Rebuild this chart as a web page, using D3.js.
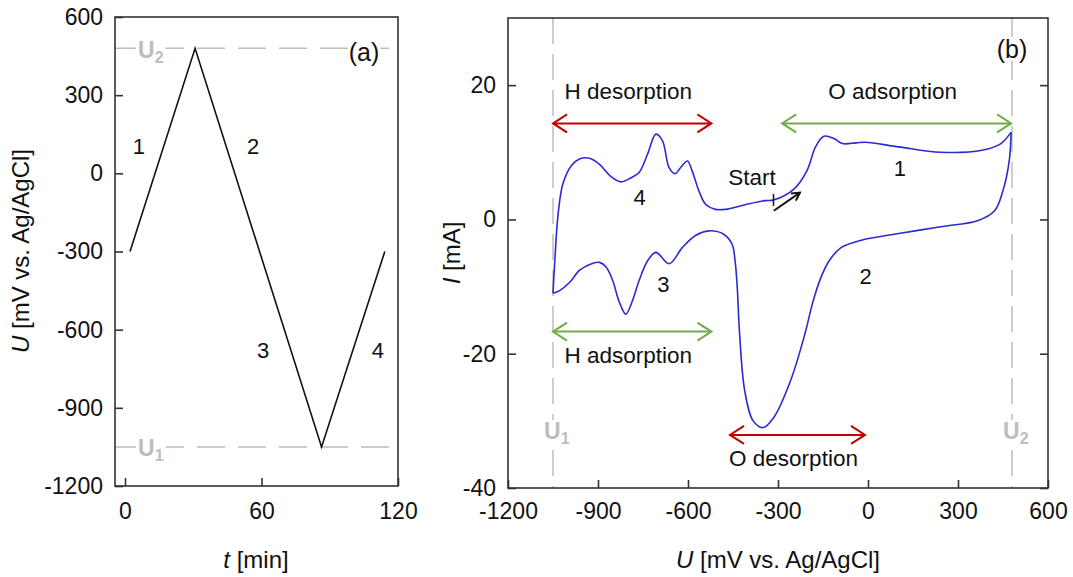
<!DOCTYPE html>
<html>
<head>
<meta charset="utf-8">
<script src="https://cdn.jsdelivr.net/npm/d3@7"></script>
<style>
  body { margin: 0; background: #fff; }
  text { font-family: "Liberation Sans", Arial, sans-serif; }
</style>
</head>
<body>
<svg id="chart" width="1073" height="577"></svg>
<script>
// ---- (a) potential program ----
const timePts = [2.2, 30.8, 86.4, 114.2];
const potPts = [-300, 480, -1050, -300];
const timeTicks = [0, 60, 120];
const potTicks = [-1200, -900, -600, -300, 0, 300, 600];
const U1 = -1050, U2 = 480;

// ---- (b) cyclic voltammogram ----
// forward sweep U1 -> U2 (branches 4 and 1)
const fwdU = [-1050, -1044, -1033, -1017, -989, -962, -928, -895, -857, -823, -790, -763, -735, -707, -685, -663, -643, -625, -602, -586, -564, -542, -509, -475, -409, -343, -315, -245, -203, -175, -147, -112, -85, -40, -8, 103, 242, 380, 443, 477];
const fwdI = [-11.0, -6.2, 0.8, 5.3, 8.0, 9.0, 9.1, 8.2, 6.4, 5.6, 6.2, 7.0, 9.7, 12.7, 11.7, 7.7, 6.8, 7.7, 8.7, 7.2, 4.3, 2.3, 1.5, 1.5, 2.2, 2.8, 2.9, 4.6, 7.3, 10.8, 12.4, 12.0, 11.3, 11.4, 11.5, 10.8, 10.0, 10.3, 11.3, 13.0];
// reverse sweep U2 -> U1 (branches 2 and 3)
const revU = [477, 471, 450, 422, 367, 242, 103, -22, -90, -130, -160, -185, -210, -258, -314, -349, -383, -411, -428, -436, -443, -453, -481, -531, -575, -619, -663, -707, -735, -763, -785, -807, -829, -851, -873, -895, -928, -962, -995, -1028, -1050];
const revI = [13.0, 8.8, 4.3, 1.3, -0.15, -1.1, -2.1, -3.1, -4.2, -6.2, -9.0, -12.5, -17.0, -24.0, -29.5, -31.0, -30.0, -25.5, -17.0, -10.0, -6.2, -3.7, -2.2, -1.7, -2.4, -4.2, -6.6, -4.9, -6.2, -9.1, -12.1, -14.1, -12.3, -9.1, -7.1, -6.4, -6.7, -7.6, -9.4, -10.6, -11.0];
const cvUTicks = [-1200, -900, -600, -300, 0, 300, 600];
const currentTicks = [-40, -20, 0, 20];

// process regions: [start U, end U, current level]
const regionNames = ['H desorption', 'O adsorption', 'H adsorption', 'O desorption'];
const regionFrom = [-1050, -286, -1050, -460];
const regionTo = [-522, 477, -522, -10];
const regionI = [14.3, 14.3, -16.7, -32.1];
const startU = -315, startI = 2.9;

const RED = '#c00000', GREEN = '#70ad47', BLUE = '#2b2bd3', GREY = '#bdbdbd', AX = '#333';

const svg = d3.select('#chart');

function axes(x, y, xt, yt, rightTicks, bottomPad) {
  const g = svg.append('g');
  const [y0] = y.range();
  const [x0, x1] = x.range();
  g.append('g').attr('transform', `translate(0,${y0})`)
    .call(d3.axisBottom(x).tickValues(xt).tickSize(-8).tickPadding(bottomPad).tickFormat(d => String(d)));
  g.append('g').attr('transform', `translate(${x0},0)`)
    .call(d3.axisLeft(y).tickValues(yt).tickSize(-8).tickPadding(12).tickFormat(d => String(d)));
  if (rightTicks) {
    g.append('g').attr('transform', `translate(${x1},0)`)
      .call(d3.axisRight(y).tickValues(yt).tickSize(-8).tickFormat(''));
  }
  g.selectAll('.domain').remove();
  g.selectAll('.tick line').attr('stroke', AX).attr('stroke-width', 1.6);
  g.selectAll('.tick text').attr('font-size', 23).attr('fill', '#111')
    .attr('font-family', '"Liberation Sans", Arial, sans-serif');
  const [yb, yt2] = y.range();
  svg.append('rect').attr('x', x0).attr('y', yt2).attr('width', x1 - x0).attr('height', yb - yt2)
    .attr('fill', 'none').attr('stroke', AX).attr('stroke-width', 1.6);
}

function backedText(x, y, str, size, opts = {}) {
  const t = svg.append('text').attr('x', x).attr('y', y).attr('font-size', size)
    .attr('text-anchor', opts.anchor || 'middle').attr('fill', opts.fill || '#111')
    .attr('font-weight', opts.weight || 'normal').text(str);
  if (opts.back) {
    const b = t.node().getBBox();
    svg.insert('rect', () => t.node()).attr('x', b.x - 1).attr('y', b.y + 2)
      .attr('width', b.width + 2).attr('height', b.height - 4).attr('fill', '#fff');
  }
  return t;
}

function uLabel(x, y, sub) {
  const t = svg.append('text').attr('x', x).attr('y', y).attr('font-size', 23)
    .attr('font-weight', 'bold').attr('fill', GREY);
  t.append('tspan').text('U');
  t.append('tspan').attr('font-size', 16).attr('dy', 5).text(sub);
  const b = t.node().getBBox();
  svg.insert('rect', () => t.node()).attr('x', b.x - 2).attr('y', b.y + 2)
    .attr('width', b.width + 4).attr('height', b.height - 3).attr('fill', '#fff');
}

function dblArrow(xa, xb, y, color) {
  const g = svg.append('g').attr('stroke', color).attr('stroke-width', 2).attr('fill', 'none');
  g.append('line').attr('x1', xa).attr('x2', xb).attr('y1', y).attr('y2', y);
  g.append('polyline').attr('points', `${xa + 14},${y - 9} ${xa},${y} ${xa + 14},${y + 9}`);
  g.append('polyline').attr('points', `${xb - 14},${y - 9} ${xb},${y} ${xb - 14},${y + 9}`);
}

// ================= panel (a) =================
const xA = d3.scaleLinear().domain([-4.4, 120]).range([115, 398]);
const yA = d3.scaleLinear().domain([-1200, 600]).range([486, 17]);

[U1, U2].forEach(u => {
  svg.append('line').attr('x1', xA.range()[0]).attr('x2', xA.range()[1])
    .attr('y1', yA(u)).attr('y2', yA(u))
    .attr('stroke', GREY).attr('stroke-width', 1.5).attr('stroke-dasharray', '28,13');
});
uLabel(138, yA(U2) + 10, '2');
uLabel(138, yA(U1) + 9, '1');

axes(xA, yA, timeTicks, potTicks, false, 17);

svg.append('path')
  .datum(d3.zip(timePts, potPts))
  .attr('fill', 'none').attr('stroke', '#111').attr('stroke-width', 1.6)
  .attr('d', d3.line().x(d => xA(d[0])).y(d => yA(d[1])));

backedText(364, 61, '(a)', 25, {back: true});
[['1', 6.1, 105], ['2', 56.3, 105], ['3', 60.7, -678], ['4', 111.2, -678]].forEach(([s, t, u]) => {
  backedText(xA(t), yA(u) + 8, s, 22);
});

svg.append('text').attr('transform', 'translate(29,251) rotate(-90)')
  .attr('text-anchor', 'middle').attr('font-size', 24).attr('fill', '#111')
  .call(t => { t.append('tspan').attr('font-style', 'italic').text('U'); t.append('tspan').text(' [mV vs. Ag/AgCl]'); });
svg.append('text').attr('x', 256).attr('y', 568).attr('text-anchor', 'middle')
  .attr('font-size', 24).attr('fill', '#111')
  .call(t => { t.append('tspan').attr('font-style', 'italic').text('t'); t.append('tspan').text(' [min]'); });

// ================= panel (b) =================
const xB = d3.scaleLinear().domain([-1200, 600]).range([508, 1048]);
const yB = d3.scaleLinear().domain([-40, 30]).range([488, 18]);

[U1, U2].forEach(u => {
  svg.append('line').attr('x1', xB(u)).attr('x2', xB(u))
    .attr('y1', yB.range()[1]).attr('y2', yB.range()[0])
    .attr('stroke', GREY).attr('stroke-width', 1.5).attr('stroke-dasharray', '26,10');
});
uLabel(xB(U1) - 9, 439, '1');
uLabel(xB(U2) - 9, 439, '2');

axes(xB, yB, cvUTicks, currentTicks, true, 15);

const cvLine = d3.line().x(d => xB(d[0])).y(d => yB(d[1])).curve(d3.curveCatmullRom.alpha(0.5));
[[fwdU, fwdI], [revU, revI]].forEach(([u, i]) => {
  svg.append('path').datum(d3.zip(u, i))
    .attr('fill', 'none').attr('stroke', BLUE).attr('stroke-width', 1.6).attr('d', cvLine);
});

// region arrows and names
const regionColor = [RED, GREEN, GREEN, RED];
const labelDy = [-24, -24, 31, 31];
regionNames.forEach((name, k) => {
  const y = yB(regionI[k]);
  dblArrow(xB(regionFrom[k]), xB(regionTo[k]), y, regionColor[k]);
  const cx = (xB(regionFrom[k]) + xB(regionTo[k])) / 2;
  backedText(cx - 4, y + labelDy[k], name, 22.5);
});

// start marker
svg.append('line').attr('x1', xB(startU)).attr('x2', xB(startU))
  .attr('y1', yB(startI) - 6).attr('y2', yB(startI) + 6).attr('stroke', '#111').attr('stroke-width', 1.5);
backedText(xB(-387), yB(6.3) + 8, 'Start', 22.5);
{
  const ax = xB(-314), ay = yB(1.3), bx = xB(-227), by = yB(4.0);
  const ang = Math.atan2(by - ay, bx - ax);
  const g = svg.append('g').attr('stroke', '#111').attr('stroke-width', 2).attr('fill', 'none');
  g.append('line').attr('x1', ax).attr('y1', ay).attr('x2', bx).attr('y2', by);
  const h = 9;
  const p1 = [bx - h * Math.cos(ang - 0.5), by - h * Math.sin(ang - 0.5)];
  const p2 = [bx - h * Math.cos(ang + 0.5), by - h * Math.sin(ang + 0.5)];
  g.append('polyline').attr('points', `${p1} ${bx},${by} ${p2}`);
}

[['1', 106, 7.6], ['2', -8, -8.4], ['3', -682, -9.6], ['4', -761, 3.4]].forEach(([s, u, i]) => {
  backedText(xB(u), yB(i) + 8, s, 22);
});
backedText(1012, 58, '(b)', 25, {back: true});

svg.append('text').attr('transform', 'translate(460,253) rotate(-90)')
  .attr('text-anchor', 'middle').attr('font-size', 24).attr('fill', '#111')
  .call(t => { t.append('tspan').attr('font-style', 'italic').text('I'); t.append('tspan').text(' [mA]'); });
svg.append('text').attr('x', 778).attr('y', 568).attr('text-anchor', 'middle')
  .attr('font-size', 24).attr('fill', '#111')
  .call(t => { t.append('tspan').attr('font-style', 'italic').text('U'); t.append('tspan').text(' [mV vs. Ag/AgCl]'); });
</script>
</body>
</html>
